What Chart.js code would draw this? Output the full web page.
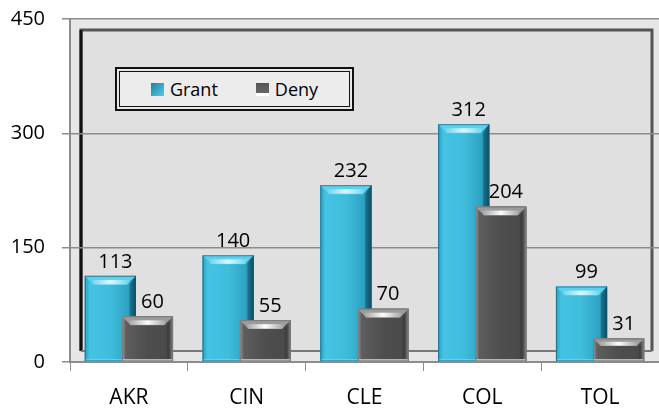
<!DOCTYPE html>
<html>
<head>
<meta charset="utf-8">
<script src="https://cdn.jsdelivr.net/npm/chart.js@4.4.1/dist/chart.umd.min.js"></script>
<style>
  html, body { margin: 0; padding: 0; background: #fff; }
  #wrap { position: relative; width: 659px; height: 410px; }
  #legend {
    position: absolute; left: 115px; top: 67px; width: 231px; height: 36px;
    border: 2px solid #111; padding: 2px; background: #e8e8e8;
  }
  #legend .in {
    height: 100%; box-sizing: border-box; border: 1px solid #111; background: #ececec;
    display: flex; align-items: center; justify-content: center; gap: 38px;
    font: 18px "Open Sans", sans-serif; color: #000;
  }
  #legend .item { display: flex; align-items: center; gap: 6px; }
  #legend .mark { width: 13px; height: 13px; display: inline-block; }
</style>
</head>
<body>
<div id="wrap">
  <canvas id="chart" width="659" height="410"></canvas>
  <div id="legend"><div class="in"></div></div>
</div>
<script>
const categories = ['AKR', 'CIN', 'CLE', 'COL', 'TOL'];
const grantValues = [113, 140, 232, 312, 99];
const denyValues = [60, 55, 70, 204, 31];
const yTicks = [0, 150, 300, 450];

const FONT = '"Open Sans", sans-serif';

// 3D風の見た目用パレット
const palettes = [
  {
    base: '#38b3d3',
    body: [[0, '#2a9ec0'], [0.1, '#45c3e2'], [0.5, '#40bddc'], [0.85, '#2ea2c3'], [1, '#12566c']],
    top: '#5cd0ec', shine: 'rgba(220,250,255,0.95)', right: 'rgba(10,60,80,0.35)',
    bottom: '#6fd8f0', edge: 'rgba(20,90,110,0.6)',
    mark: 'linear-gradient(135deg,#1f7fa0,#52cbe8)'
  },
  {
    base: '#505050',
    body: [[0, '#9a9a9a'], [0.08, '#5e5e5e'], [0.5, '#4e4e4e'], [0.92, '#4a4a4a'], [1, '#a0a0a0']],
    top: '#9b9b9b', shine: 'rgba(255,255,255,0.98)', right: 'rgba(0,0,0,0.15)',
    bottom: '#d8d8d8', edge: 'rgba(120,120,120,0.9)',
    mark: 'linear-gradient(#555 0,#666 80%,#fff 80%)'
  }
];

function paintBar(ctx, bar, pal) {
  const l = bar.x - bar.width / 2, r = bar.x + bar.width / 2;
  const t = bar.y, b = bar.base, w = r - l, h = b - t;
  const e = Math.min(9, h / 3);
  const g = ctx.createLinearGradient(l, 0, r, 0);
  pal.body.forEach(([s, c]) => g.addColorStop(s, c));
  ctx.fillStyle = g;
  ctx.fillRect(l, t, w, h);
  // 右側の影
  ctx.fillStyle = pal.right;
  ctx.beginPath();
  ctx.moveTo(r, t); ctx.lineTo(r, b); ctx.lineTo(r - e * 0.7, b - 3); ctx.lineTo(r - e * 0.7, t + e);
  ctx.closePath(); ctx.fill();
  // 上面の面取り
  ctx.fillStyle = pal.top;
  ctx.beginPath();
  ctx.moveTo(l, t); ctx.lineTo(r, t); ctx.lineTo(r - e, t + e); ctx.lineTo(l + e, t + e);
  ctx.closePath(); ctx.fill();
  // ハイライト
  const hg = ctx.createLinearGradient(l, 0, r, 0);
  hg.addColorStop(0.1, 'rgba(255,255,255,0)');
  hg.addColorStop(0.5, pal.shine);
  hg.addColorStop(0.9, 'rgba(255,255,255,0)');
  ctx.fillStyle = hg;
  ctx.fillRect(l + e * 0.8, t + e * 0.45, w - e * 1.6, Math.max(2, e * 0.5));
  // 下端
  ctx.fillStyle = pal.bottom;
  ctx.fillRect(l + 1, b - 2, w - 2, 2);
  ctx.strokeStyle = pal.edge;
  ctx.lineWidth = 1;
  ctx.strokeRect(l + 0.5, t + 0.5, w - 1, h - 1);
}

const framePlugin = {
  id: 'frame',
  beforeDraw(chart) {
    const { ctx, chartArea: a } = chart;
    ctx.save();
    ctx.fillStyle = '#e6e6e6';
    ctx.fillRect(a.left, a.top, a.right - a.left, a.bottom - a.top);
    const il = a.left + 11, it = a.top + 11, ir = a.right - 7, ib = a.bottom - 11;
    ctx.fillStyle = '#e0e0e0';
    ctx.fillRect(il, it, ir - il, ib - it);
    ctx.strokeStyle = '#555';
    ctx.lineWidth = 3;
    ctx.beginPath(); ctx.moveTo(il, ib); ctx.lineTo(il, it); ctx.lineTo(ir, it); ctx.lineTo(ir, ib); ctx.stroke();
    ctx.strokeStyle = '#111';
    ctx.beginPath(); ctx.moveTo(il, it); ctx.lineTo(il, ib); ctx.stroke();
    ctx.strokeStyle = '#777';
    ctx.lineWidth = 2;
    ctx.beginPath(); ctx.moveTo(il, ib); ctx.lineTo(ir, ib); ctx.stroke();
    ctx.restore();
  },
  afterDatasetsDraw(chart) {
    const { ctx } = chart;
    ctx.save();
    // Grant → Deny の順で塗り直して Deny を手前に
    chart.data.datasets.forEach((ds, i) => {
      chart.getDatasetMeta(i).data.forEach(bar => paintBar(ctx, bar, palettes[i]));
    });
    ctx.fillStyle = '#000';
    ctx.font = '20px ' + FONT;
    ctx.textAlign = 'center';
    ctx.textBaseline = 'bottom';
    chart.data.datasets.forEach((ds, i) => {
      chart.getDatasetMeta(i).data.forEach((bar, j) => {
        ctx.fillText(ds.data[j], bar.x + 5, bar.y - 4);
      });
    });
    ctx.restore();
  }
};

const chart = new Chart(document.getElementById('chart'), {
  type: 'bar',
  data: {
    labels: categories,
    datasets: [
      { label: 'Grant', data: grantValues, backgroundColor: palettes[0].base },
      { label: 'Deny', data: denyValues, backgroundColor: palettes[1].base }
    ]
  },
  options: {
    responsive: false,
    animation: false,
    devicePixelRatio: 1,
    categoryPercentage: 0.63,
    barPercentage: 1.38,
    layout: { padding: { top: 19, right: 0, left: 0, bottom: 0 } },
    plugins: { legend: { display: false }, tooltip: { enabled: false } },
    scales: {
      x: {
        grid: { drawOnChartArea: false, offset: true, tickLength: 9, color: '#8c8c8c' },
        border: { color: '#8c8c8c', width: 2 },
        ticks: { color: '#000', font: { family: FONT, size: 21 }, padding: 14 },
        afterFit: s => { s.height = 48; s.paddingLeft = 0; s.paddingRight = 0; }
      },
      y: {
        min: 0, max: 450,
        afterBuildTicks: s => { s.ticks = yTicks.map(v => ({ value: v })); },
        grid: { color: '#8c8c8c', tickLength: 8, lineWidth: 1.5 },
        border: { color: '#8c8c8c', width: 2 },
        ticks: { color: '#000', font: { family: FONT, size: 20 }, padding: 17 },
        afterFit: s => { s.width = 70; s.paddingTop = 0; s.paddingBottom = 0; }
      }
    }
  },
  plugins: [framePlugin]
});

// 凡例（データセットから生成）
const legendIn = document.querySelector('#legend .in');
chart.data.datasets.forEach((ds, i) => {
  const item = document.createElement('span');
  item.className = 'item';
  const mark = document.createElement('span');
  mark.className = 'mark';
  mark.style.background = palettes[i].mark;
  const txt = document.createElement('span');
  txt.textContent = ds.label;
  item.append(mark, txt);
  legendIn.append(item);
});
</script>
</body>
</html>
